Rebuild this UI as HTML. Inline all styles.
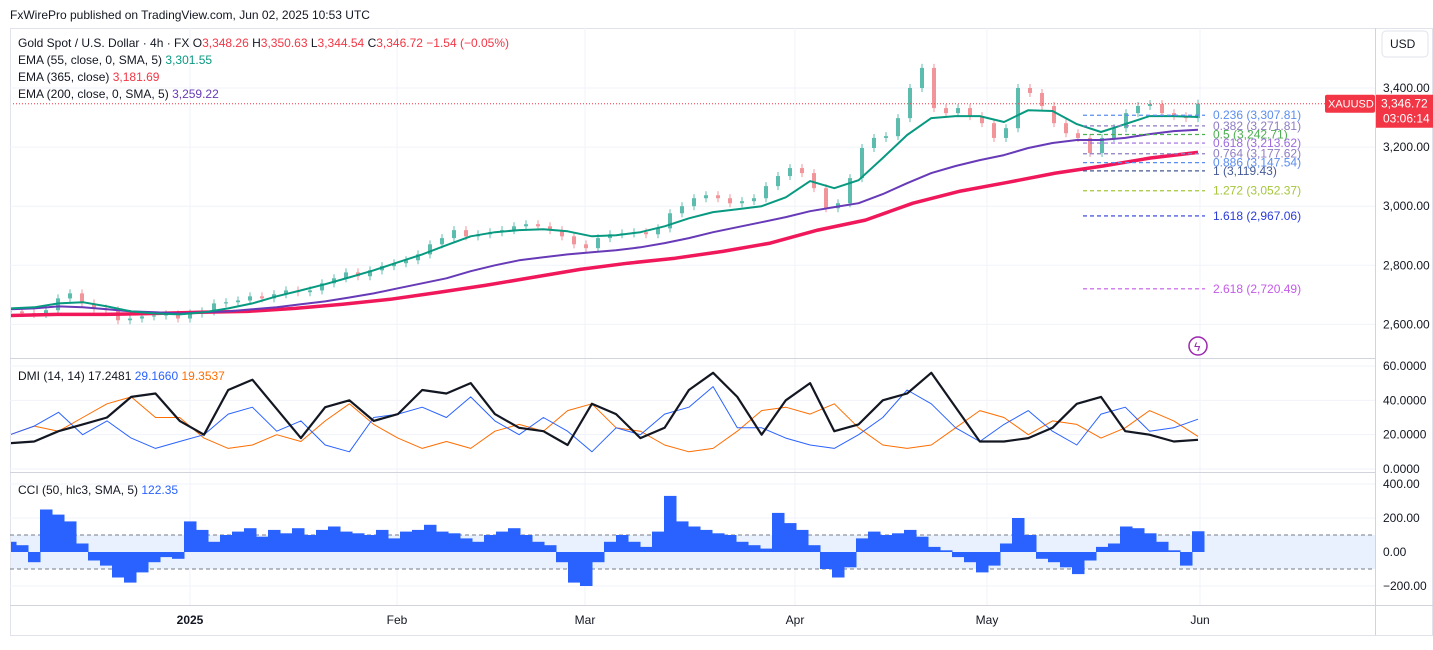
<!DOCTYPE html>
<html><head><meta charset="utf-8"><style>
body{margin:0;background:#fff;width:1433px;height:645px;overflow:hidden;font-family:"Liberation Sans",sans-serif}
svg text{font-family:"Liberation Sans",sans-serif}
</style></head><body>
<svg id="c" width="1433" height="645" xmlns="http://www.w3.org/2000/svg">
<defs><clipPath id="plot"><rect x="11" y="28" width="1364" height="577"/></clipPath></defs>
<rect width="1433" height="645" fill="#fff"/>
<text x="10" y="19" font-size="12" fill="#131722">FxWirePro published on TradingView.com, Jun 02, 2025 10:53 UTC</text>
<rect x="10.5" y="28.5" width="1422" height="607" fill="none" stroke="#e0e3eb"/>
<g id="grid"></g>
<rect x="11" y="535" width="1364" height="34" fill="#e8f1fd"/>
<line x1="10" x2="1375" y1="535" y2="535" stroke="#787b86" stroke-dasharray="4,3"/>
<line x1="10" x2="1375" y1="569" y2="569" stroke="#787b86" stroke-dasharray="4,3"/>
<g id="marks" clip-path="url(#plot)"></g>
<g id="fib"></g>
<line x1="10" x2="1375" y1="358.5" y2="358.5" stroke="#d1d4dc"/>
<line x1="10" x2="1375" y1="472.5" y2="472.5" stroke="#d1d4dc"/>
<line x1="10" x2="1433" y1="605.5" y2="605.5" stroke="#d1d4dc"/>
<line x1="1375.5" x2="1375.5" y1="28" y2="635" stroke="#d1d4dc"/>
<g id="axes" font-size="12" fill="#131722"></g>
<g font-size="12">
<text x="18" y="47" fill="#131722">Gold Spot / U.S. Dollar · 4h · FX  O<tspan fill="#f23645">3,348.26</tspan> H<tspan fill="#f23645">3,350.63</tspan> L<tspan fill="#f23645">3,344.54</tspan> C<tspan fill="#f23645">3,346.72 −1.54 (−0.05%)</tspan></text>
<text x="18" y="64" fill="#131722">EMA (55, close, 0, SMA, 5) <tspan fill="#089981">3,301.55</tspan></text>
<text x="18" y="81" fill="#131722">EMA (365, close) <tspan fill="#f23645">3,181.69</tspan></text>
<text x="18" y="98" fill="#131722">EMA (200, close, 0, SMA, 5) <tspan fill="#673ab7">3,259.22</tspan></text>
</g>
<text x="18" y="380" font-size="12" fill="#131722">DMI (14, 14)  17.2481 <tspan fill="#2962ff">29.1660</tspan> <tspan fill="#ff6d00">19.3537</tspan></text>
<text x="18" y="494" font-size="12" fill="#131722">CCI (50, hlc3, SMA, 5) <tspan fill="#2962ff">122.35</tspan></text>
<g><rect x="1382" y="31" width="46" height="26" rx="4" fill="#fff" stroke="#e0e3eb"/><text x="1390" y="48" font-size="12" fill="#131722">USD</text></g>
<g><circle cx="1198" cy="346" r="9" fill="none" stroke="#9c27b0" stroke-width="1.5"/><text x="1194" y="351" font-size="12" fill="#9c27b0">ϟ</text></g>
</svg>
<script>
const priceCloses=[2644,2638,2635,2648,2688,2705,2671,2654,2648,2614,2620,2627,2630,2634,2620,2637,2644,2671,2675,2681,2695,2688,2702,2715,2709,2715,2739,2756,2776,2763,2783,2797,2807,2817,2837,2871,2892,2919,2898,2905,2912,2919,2932,2939,2932,2919,2898,2871,2858,2892,2905,2908,2912,2905,2925,2976,3000,3027,3037,3027,3010,3017,3027,3068,3102,3129,3112,3061,2993,3010,3095,3197,3231,3237,3298,3400,3468,3332,3315,3332,3305,3281,3231,3264,3400,3383,3339,3281,3247,3231,3180,3231,3264,3315,3339,3346,3315,3305,3298,3347];
const ema55=[2654,2658,2671,2675,2661,2644,2637,2634,2641,2654,2671,2695,2715,2736,2759,2783,2810,2837,2868,2898,2912,2919,2922,2915,2898,2902,2912,2932,2959,2980,2990,3000,3030,3085,3061,3088,3163,3241,3298,3305,3305,3285,3325,3322,3278,3251,3278,3305,3305,3302];
const ema200=[2651,2654,2661,2658,2651,2644,2641,2637,2641,2644,2651,2658,2668,2678,2691,2705,2722,2739,2756,2780,2800,2817,2827,2837,2844,2851,2861,2875,2892,2912,2929,2946,2963,2983,2997,3010,3041,3078,3112,3136,3156,3173,3197,3214,3224,3224,3231,3244,3254,3259];
const ema365=[2630,2634,2634,2637,2641,2644,2654,2668,2685,2708,2732,2759,2786,2807,2824,2847,2875,2919,2953,3010,3051,3081,3112,3136,3163,3182];
const adx=[15,16,22,26,30,42,44,28,20,46,52,35,18,36,40,28,32,46,44,50,32,24,22,14,38,32,18,24,46,56,42,20,40,50,22,26,40,44,56,36,16,16,18,24,38,42,22,20,16,17];
const diPlus=[20,25,33,20,28,18,12,16,20,32,36,22,28,14,10,30,32,36,30,42,28,20,30,22,10,24,20,32,36,48,24,24,18,14,12,20,30,46,38,24,16,26,34,22,14,32,36,22,24,29];
const diMinus=[20,25,22,30,38,42,30,30,18,12,14,20,16,28,38,26,18,12,16,12,22,26,22,34,38,24,22,14,10,12,22,34,36,32,38,24,14,12,14,24,34,30,20,28,26,18,24,34,28,19];
const cci=[60,40,-60,250,220,180,50,-50,-80,-150,-180,-120,-60,-30,-40,180,130,60,100,120,140,90,130,110,140,100,130,150,120,110,100,130,80,120,130,160,120,110,80,60,100,120,140,100,60,40,-60,-180,-200,-60,60,100,60,30,120,330,180,150,130,110,100,60,40,20,230,170,130,40,-100,-150,-90,80,120,100,110,130,90,30,10,-30,-60,-120,-80,50,200,100,-40,-60,-90,-130,-50,30,50,150,140,110,60,10,-80,122];
const priceTicks=[3400,3200,3000,2800,2600];
const dmiTicks=[60,40,20,0];
const cciTicks=[400,200,0,-200];
const monthLabels=["2025","Feb","Mar","Apr","May","Jun"];
const monthX=[190,397,585,795,987,1200];
const fibLevels=["0.236","0.382","0.5","0.618","0.764","0.886","1","1.272","1.618","2.618"];
const fibPrices=[3307.81,3271.81,3242.71,3213.62,3177.62,3147.54,3119.43,3052.37,2967.06,2720.49];
const fibColors=["#5b8def","#8e7cc3","#4caf50","#9c6ade","#8e7cc3","#5b8def","#455a94","#a5c63b","#2a3bd9","#c45ae8"];
const lastPrice=3346.72;

const NS="http://www.w3.org/2000/svg";
const X0=10,X1=1198;
const yP=p=>88+(3400-p)*0.2955;
const yD=v=>469-v*1.717;
const yC=v=>552-v*0.17;
const xAt=(i,n)=>X0+(X1-X0)*i/(n-1);
function mk(tag,attrs,parent){const e=document.createElementNS(NS,tag);for(const k in attrs)e.setAttribute(k,attrs[k]);parent.appendChild(e);return e;}
const grid=document.getElementById('grid'),marks=document.getElementById('marks'),axes=document.getElementById('axes'),fib=document.getElementById('fib');
const gridYs=priceTicks.map(yP).concat(dmiTicks.map(yD),cciTicks.map(yC));
gridYs.forEach(y=>{const l=mk('line',{x1:10,x2:1375,y1:y,y2:y,stroke:'#f0f3fa'},grid);

});
monthX.forEach(x=>{const l=mk('line',{x1:x,x2:x,y1:28,y2:605,stroke:'#f0f3fa'},grid);

});
const n=priceCloses.length;
for(let i=0;i<n;i++){const c=priceCloses[i],o=i?priceCloses[i-1]:c;const x=xAt(i,n);
const up=c>=o;const col=up?'#5cbcad':'#f2959b';
const yt=yP(Math.max(o,c)),yb=yP(Math.min(o,c));
const w=mk('line',{x1:x,x2:x,y1:yt-4,y2:yb+4,stroke:col,'stroke-width':1},marks);


const r=mk('rect',{x:x-2,y:yt,width:4,height:Math.max(1,yb-yt),fill:col},marks);

}
function line(arr,yf,col,wd,name){const pts=arr.map((v,i)=>xAt(i,arr.length).toFixed(1)+','+yf(v).toFixed(1)).join(' ');
const p=mk('polyline',{points:pts,fill:'none',stroke:col,'stroke-width':wd,'stroke-linejoin':'round'},marks);

}
line(ema365,yP,'#f0185a',3.5,'ema-365-line');
line(ema200,yP,'#673ab7',2,'ema-200-line');
line(ema55,yP,'#089981',2,'ema-55-line');
const pl=mk('line',{x1:10,x2:1375,y1:yP(lastPrice),y2:yP(lastPrice),stroke:'#f23645','stroke-dasharray':'1,2'},marks);


fibLevels.forEach((lv,i)=>{const y=yP(fibPrices[i]);
const l=mk('line',{x1:1083,x2:1205,y1:y,y2:y,stroke:fibColors[i],'stroke-dasharray':'4,3','stroke-width':1.2},fib);


const t=mk('text',{x:1213,y:y+4,'font-size':12,fill:fibColors[i]},fib);
t.textContent=lv+' ('+fibPrices[i].toLocaleString('en-US',{minimumFractionDigits:2})+')';

});
line(diMinus,yD,'#ff6d00',1,'dmi-minus-line');
line(diPlus,yD,'#2962ff',1,'dmi-plus-line');
line(adx,yD,'#131722',2.2,'adx-line');
const cw=(X1-X0)/(cci.length-1);
cci.forEach((v,i)=>{const x=xAt(i,cci.length);const y0=yC(0),y=yC(v);
const r=mk('rect',{x:x-cw/2,y:Math.min(y,y0),width:cw+0.5,height:Math.abs(y-y0),fill:'#2962ff'},marks);

});
const fmt=(v,d)=>v.toLocaleString('en-US',{minimumFractionDigits:d,maximumFractionDigits:d});
priceTicks.forEach(v=>{const t=mk('text',{x:1383,y:yP(v)+4},axes);t.textContent=fmt(v,2);

});
dmiTicks.forEach(v=>{const t=mk('text',{x:1383,y:yD(v)+4},axes);t.textContent=v.toFixed(4);

});
cciTicks.forEach(v=>{const t=mk('text',{x:1383,y:yC(v)+4},axes);t.textContent=(v<0?'−':'')+fmt(Math.abs(v),2);

});
monthLabels.forEach((m,i)=>{const t=mk('text',{x:monthX[i],y:624,'text-anchor':'middle','font-weight':i==0?'bold':'normal'},axes);t.textContent=m;

});
const yl=yP(lastPrice);
const b1=mk('rect',{x:1325,y:yl-9,width:50,height:18,rx:2,fill:'#f23645'},axes);


const t1=mk('text',{x:1328,y:yl+4,fill:'#fff','font-size':11},axes);t1.textContent='XAUUSD';


const b2=mk('rect',{x:1376,y:yl-9,width:57,height:33,fill:'#f23645'},axes);


const t2=mk('text',{x:1381,y:yl+4,fill:'#fff'},axes);t2.textContent=fmt(lastPrice,2);


const t3=mk('text',{x:1383,y:yl+19,fill:'#fff'},axes);t3.textContent='03:06:14';


</script>
</body></html>
